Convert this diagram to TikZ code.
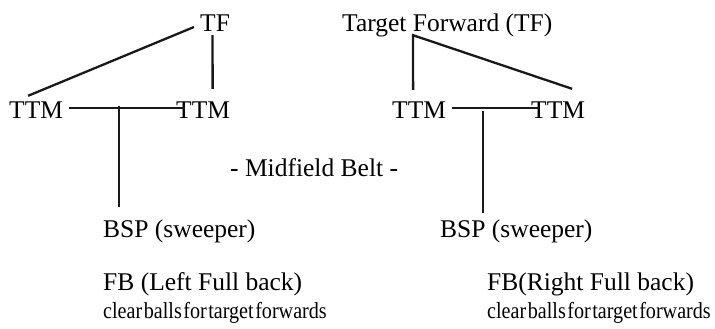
\documentclass[tikz,border=0pt]{standalone}
\usepackage{fontspec}
\setmainfont{Liberation Serif}
\newfontfamily\narrowfont[FakeStretch=0.875,WordSpace=0.3]{Liberation Serif}
\usepackage{tikz}
\usetikzlibrary{positioning}
\newcommand{\pfont}{\fontsize{25.5}{28}\selectfont}
\tikzstyle{player} = [inner sep=0pt, anchor=base west, text height=17pt, text depth=0pt, font=\pfont]
\tikzstyle{note} = [inner sep=0pt, text height=16pt, text depth=5pt, font=\narrowfont\fontsize{23}{25}\selectfont]
\tikzstyle{link} = [line width=2.3pt, black!90]

\begin{document}
\begin{tikzpicture}[x=1pt, y=-1pt] % pixel grid, y runs down
\useasboundingbox (0,0) rectangle (715,329);

% Place the players
\node(tfL)     [player] at (200,31.5)  {TF};
\node(ttmLa)   [player] at (9,118.5)   {TTM};
\node(ttmLb)   [player] at (176,118.5) {TTM};
\node(bspL)    [player] at (103,237)   {BSP (sweeper)};
\node(fbL)     [player] at (103,290.5) {FB (Left Full back)};
\node(clearL)  [note, below=12pt of fbL.south west, anchor=north west] {clear balls for target forwards};

\node(tfR)     [player] at (342,31.5)  {Target Forward (TF)};
\node(ttmRa)   [player] at (392,118.5) {TTM};
\node(ttmRb)   [player] at (531,118.5) {TTM};
\node(bspR)    [player] at (440,237.5) {BSP (sweeper)};
\node(fbR)     [player] at (487,290.5) {FB(Right Full back)};
\node(clearR)  [note, below=12pt of fbR.south west, anchor=north west] {clear balls for target forwards};

\node(belt)    [player] at (230,176.5) {- Midfield Belt -};

\coordinate (tfRfoot) at ([shift={(71pt,-3.5pt)}]tfR.south west);

% Connect the players with lines
\draw [link] ([shift={(-6pt,-4pt)}]tfL.west)      -- ([shift={(-8pt,5.5pt)}]ttmLa.north);
\draw [link] ([shift={(-2.5pt,-3.5pt)}]tfL.south) -- ([shift={(9.5pt,12.5pt)}]ttmLb.north);
\draw [link] ([shift={(6pt,2pt)}]ttmLa.east)      -- ([shift={(9pt,2pt)}]ttmLb.west);
\draw [link] ([shift={(16pt,13pt)}]bspL.north west) -- ([shift={(16pt,13pt)}]bspL.north west |- ttmLa.south);

\draw [link] ([shift={(-6pt,11.5pt)}]ttmRa.north) -- (tfRfoot) -- ([shift={(14pt,12.5pt)}]ttmRb.north);
\draw [link] ([shift={(6pt,2pt)}]ttmRa.east)      -- ([shift={(8pt,2pt)}]ttmRb.west);
\draw [link] ([shift={(43pt,7.5pt)}]bspR.north west) -- ([shift={(43pt,7.5pt)}]bspR.north west |- ttmRa.south);

\end{tikzpicture}
\end{document}
